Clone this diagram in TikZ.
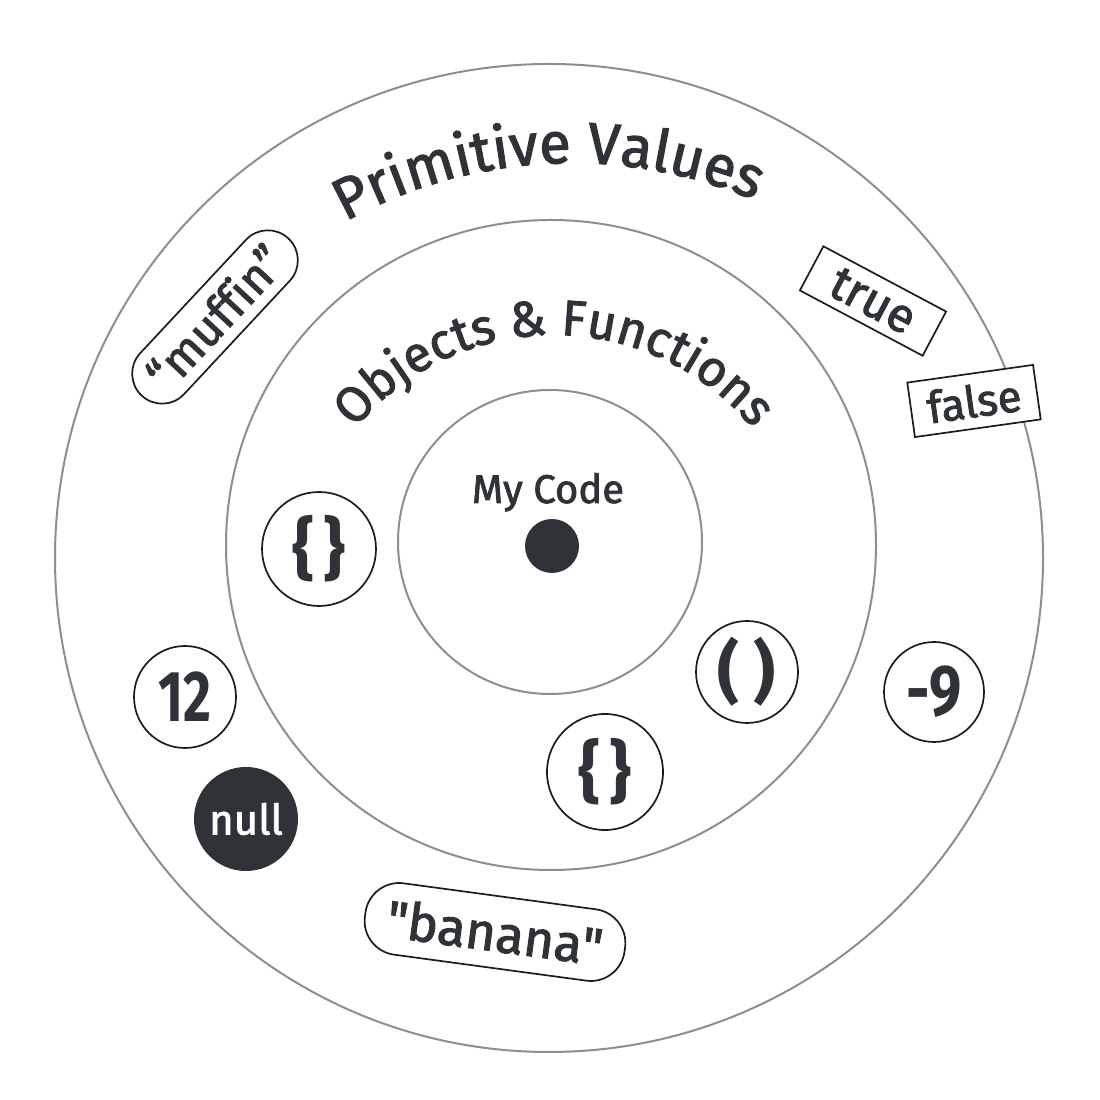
\documentclass[tikz,border=0pt]{standalone}
\usepackage{fontspec}
\usepackage{graphicx}
\setmainfont{Fira Sans}
\newfontfamily\medium{Fira Sans}[FakeBold=2]
\usetikzlibrary{decorations.text}
\definecolor{ink}{HTML}{2F3337}
\definecolor{ring}{HTML}{8E8E8E}
\definecolor{edge}{HTML}{1C1C1C}
\newcommand\fsz[1]{\fontsize{#1}{#1}\selectfont}
\begin{document}
\begin{tikzpicture}[x=1pt,y=1pt,
  ringline/.style={circle, draw=ring, line width=2pt, inner sep=0pt},
  chipline/.style={draw=edge, line width=1.7pt, fill=white, text=ink, inner sep=0pt},
  roundchip/.style={chipline, circle},
  pill/.style={chipline, rectangle, rounded corners=#1},
  boxchip/.style={chipline, rectangle},
  arctext/.style={decorate, decoration={text along path, text align=center, text color=ink, text={#1}}}
]
\useasboundingbox (0,0) rectangle (1100,1100);
\fill[white] (0,0) rectangle (1100,1100);

% rings
\node[ringline, minimum size=988] (outer) at (549,542) {};
\node[ringline, minimum size=650] (middle) at (551,555) {};
\node[ringline, minimum size=304] (inner) at (550,558) {};

% centre
\node[circle, fill=ink, minimum size=54, inner sep=0pt] (core) at (552,554) {};
\node[anchor=base, text=ink, font=\medium\fsz{40}] (mycode) at (548,597) {My Code};

% curved titles
\path[arctext={|\medium\fsz{58}|Primitive Values}] (572,470) ++(125:467) arc[start angle=125, end angle=61, radius=467];
\path[arctext={|\medium\fsz{50}|Objects {\&} Functions}] (554,507) ++(150:258) arc[start angle=150, end angle=30, radius=258];

% primitive values
\node[pill=30, rotate=47, minimum width=215, minimum height=60, font=\medium\fsz{47}\addfontfeature{Ligatures=NoCommon}] (muffin) at (215,783) {“muffin”};
\node[boxchip, rotate=-28, minimum width=139, minimum height=50, font=\medium\fsz{48}] (true) at (873,799) {true};
\node[boxchip, rotate=8, minimum width=127, minimum height=55, font=\medium\fsz{44}] (false) at (974,699) {false};
\node[pill=34, rotate=-7.7, minimum width=262, minimum height=72, font=\medium\fsz{52}] (banana) at (495,168) {"banana"};
\node[roundchip, minimum size=102, font=\bfseries\fsz{72}] (twelve) at (185,403) {\scalebox{0.75}[1]{12}};
\node[circle, fill=ink, minimum size=104, inner sep=0pt, text=white, font=\medium\fsz{42}] (null) at (246,281) {null};
\node[roundchip, minimum size=100, font=\bfseries\fsz{72}] (neg) at (934,408) {\scalebox{0.8}[1]{-9}};

% objects & functions
\node[roundchip, minimum size=114, font=\bfseries\fsz{68}] (objA) at (319,551) {\{\hspace{9pt}\}};
\node[roundchip, minimum size=116, font=\bfseries\fsz{68}] (objB) at (605,328) {\{\hspace{9pt}\}};
\node[roundchip, minimum size=102, font=\bfseries\fsz{68}] (fn) at (747,428) {(\hspace{14pt})};
\end{tikzpicture}
\end{document}
